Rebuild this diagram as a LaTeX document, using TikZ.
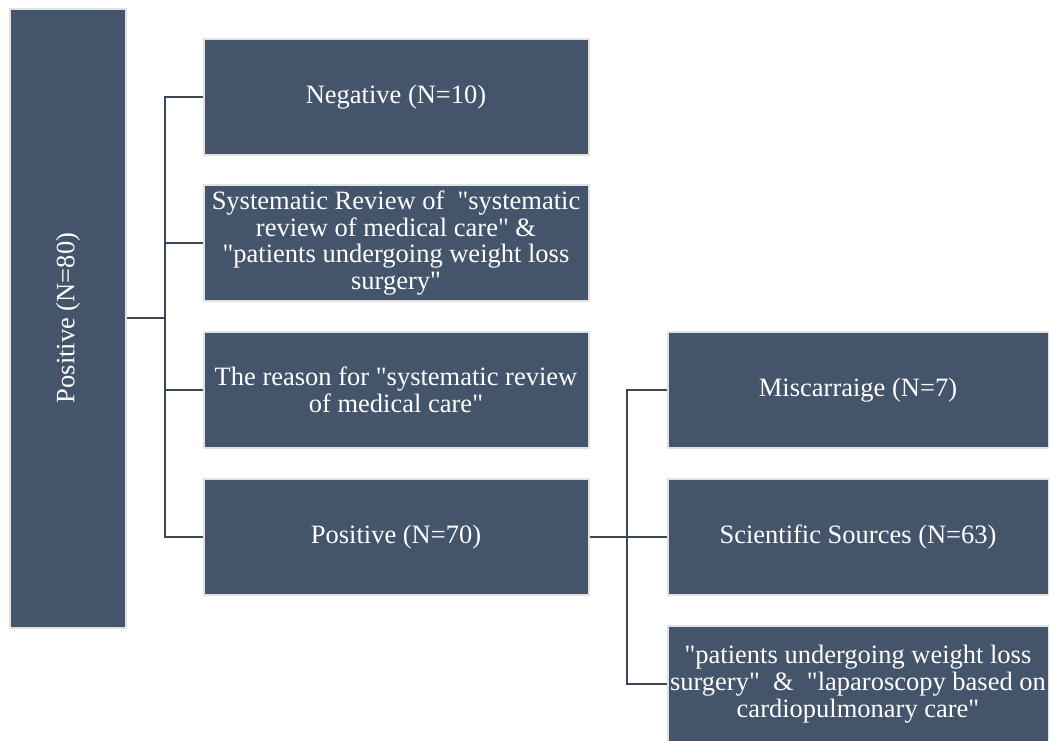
\documentclass[tikz,border=0pt]{standalone}
\usepackage{fontspec}
\setmainfont{Liberation Serif}[Ligatures=TeXOff]
\newcommand\dq{\char34\relax}
\definecolor{boxfill}{HTML}{44546A}
\definecolor{boxedge}{HTML}{E2E2E2}
\definecolor{linecol}{HTML}{3B4759}
\begin{document}
\begin{tikzpicture}[x=1pt,y=-1pt,
  blk/.style={draw=boxedge,line width=2pt,fill=boxfill,text=white,font=\fontsize{26.5}{26.7}\selectfont,align=center,inner sep=0pt},
  conn/.style={draw=linecol,line width=2pt}]
\useasboundingbox (0,0) rectangle (1049,740);
\begin{scope}
\clip (0,0) rectangle (1049,740);
\node[blk,minimum width=116pt,minimum height=619pt] (root) at (68,318) {};
\node[rotate=90,text=white,font=\fontsize{26.5}{26.7}\selectfont] (roottxt) at (root.center) {Positive (N=80)};
\node[blk,minimum width=385pt,minimum height=116pt] (neg) at (396,97) {Negative (N=10)};
\node[blk,minimum width=385pt,minimum height=116pt] (sys) at (396,243) {Systematic Review of \ \dq systematic\\review of medical care\dq{} \&\\\dq patients undergoing weight loss\\surgery\dq};
\node[blk,minimum width=385pt,minimum height=116pt] (rea) at (396,390) {The reason for \dq systematic review\\of medical care\dq};
\node[blk,minimum width=385pt,minimum height=116pt] (pos) at (396,537) {Positive (N=70)};
\node[blk,minimum width=381pt,minimum height=116pt] (mis) at (858,390) {Miscarraige (N=7)};
\node[blk,minimum width=381pt,minimum height=116pt] (sci) at (858,537) {Scientific Sources (N=63)};
\node[blk,minimum width=381pt,minimum height=116pt] (pat) at (858,684) {\dq patients undergoing weight loss\\surgery\dq{} \ \& \ \dq laparoscopy based on\\cardiopulmonary care\dq};
\end{scope}
\coordinate (j1) at (165,318);
\coordinate (j2) at (627,537);
\draw[conn] (root.east) -- (j1);
\draw[conn] (j1) |- (neg.west);
\draw[conn] (j1) |- (sys.west);
\draw[conn] (j1) |- (rea.west);
\draw[conn] (j1) |- (pos.west);
\draw[conn] (pos.east) -- (j2);
\draw[conn] (j2) |- (mis.west);
\draw[conn] (j2) |- (sci.west);
\draw[conn] (j2) |- (pat.west);
\end{tikzpicture}
\end{document}
